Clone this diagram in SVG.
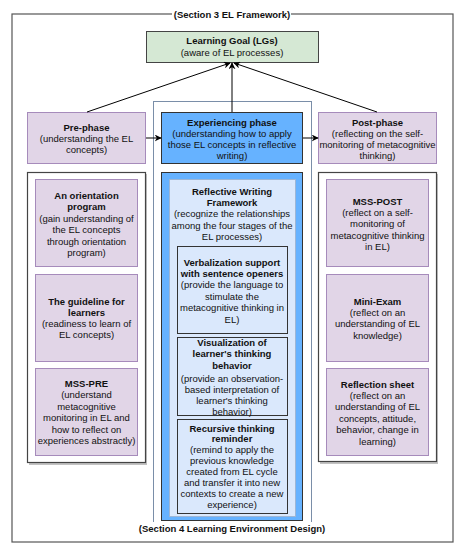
<svg xmlns="http://www.w3.org/2000/svg" width="463" height="550" viewBox="0 0 463 550">
<defs>
<marker id="ah" viewBox="0 0 10 10" refX="9" refY="5" markerWidth="7" markerHeight="7" orient="auto-start-reverse" markerUnits="userSpaceOnUse">
<path d="M0,0 L10,5 L0,10 L3,5 z" fill="#000"/>
</marker>
<style>
text{font-family:"Liberation Sans",Arial,sans-serif;font-size:9.5px;fill:#111;text-anchor:middle}
.b{font-weight:bold}
.purple{fill:#e1d5e7;stroke:#a68bbb;stroke-width:1}
.blue{fill:#66b2ff;stroke:#333;stroke-width:1}
.lblue{fill:#dae8fc;stroke:#333;stroke-width:1}
.cont{fill:#fff;stroke:#444;stroke-width:1.2}
.shadow{fill:#999;opacity:0.6}
.conn{stroke:#000;stroke-width:1;fill:none;marker-end:url(#ah)}
</style>
</defs>
<rect width="463" height="550" fill="#fff"/>

<g id="frame-section3">
<rect x="12" y="14" width="441" height="528" fill="none" stroke="#555" stroke-width="1.2"/>
<rect x="172" y="8" width="119" height="12" fill="#fff"/>
<text x="232" y="17.5" class="b">(Section 3 EL Framework)</text>
</g>

<g id="frame-section4">
<rect x="153.5" y="101.5" width="158" height="427" fill="#fff" stroke="#7a8ea8" stroke-width="1"/>
<rect x="130" y="522" width="205" height="12" fill="#fff"/>
<text x="232" y="531.5" class="b">(Section 4 Learning Environment Design)</text>
</g>

<g id="learning-goal">
<rect x="146.5" y="31.5" width="172" height="31" fill="#d5e8d4" stroke="#444"/>
<text x="232" y="43.5" class="b">Learning Goal (LGs)</text>
<text x="232" y="55.5">(aware of EL processes)</text>
</g>

<g id="pre-phase">
<rect x="27.5" y="112.5" width="118" height="51" class="purple"/>
<text x="86.5" y="130.5" class="b">Pre-phase</text>
<text x="86.5" y="141.5">(understanding the EL</text>
<text x="86.5" y="152.5">concepts)</text>
</g>

<g id="experiencing-phase">
<rect x="161.5" y="112.5" width="141" height="51" class="blue"/>
<text x="232" y="125.5" class="b">Experiencing phase</text>
<text x="232" y="136.5">(understanding how to apply</text>
<text x="232" y="147.5">those EL concepts in reflective</text>
<text x="232" y="158.5">writing)</text>
</g>

<g id="post-phase">
<rect x="318.5" y="112.5" width="118" height="51" class="purple"/>
<text x="377.5" y="125.5" class="b">Post-phase</text>
<text x="377.5" y="136.5">(reflecting on the self-</text>
<text x="377.5" y="147.5">monitoring of metacognitive</text>
<text x="377.5" y="158.5">thinking)</text>
</g>

<g id="pre-container">
<rect x="29" y="174" width="118" height="291" class="shadow"/>
<rect x="27.5" y="172.5" width="118" height="290" class="cont"/>
</g>
<g id="orientation-program">
<rect x="35.5" y="179.5" width="102" height="87" class="purple"/>
<text x="86.5" y="198.5" class="b">An orientation</text>
<text x="86.5" y="210" class="b">program</text>
<text x="86.5" y="221.5">(gain understanding of</text>
<text x="86.5" y="233">the EL concepts</text>
<text x="86.5" y="244.5">through orientation</text>
<text x="86.5" y="256">program)</text>
</g>
<g id="guideline">
<rect x="35.5" y="274.5" width="102" height="87" class="purple"/>
<text x="86.5" y="304.5" class="b">The guideline for</text>
<text x="86.5" y="315.5" class="b">learners</text>
<text x="86.5" y="326.5">(readiness to learn of</text>
<text x="86.5" y="337.5">EL concepts)</text>
</g>
<g id="mss-pre">
<rect x="35.5" y="368.5" width="102" height="87" class="purple"/>
<text x="86.5" y="386.5" class="b">MSS-PRE</text>
<text x="86.5" y="398">(understand</text>
<text x="86.5" y="409.5">metacognitive</text>
<text x="86.5" y="421">monitoring in EL and</text>
<text x="86.5" y="432.5">how to reflect on</text>
<text x="86.5" y="444">experiences abstractly)</text>
</g>

<g id="post-container">
<rect x="320" y="174" width="118" height="290" class="shadow"/>
<rect x="318.5" y="172.5" width="118" height="289" class="cont"/>
</g>
<g id="mss-post">
<rect x="326.5" y="179.5" width="102" height="87" class="purple"/>
<text x="377.5" y="204.5" class="b">MSS-POST</text>
<text x="377.5" y="215.5">(reflect on a self-</text>
<text x="377.5" y="227">monitoring of</text>
<text x="377.5" y="238.5">metacognitive thinking</text>
<text x="377.5" y="250">in EL)</text>
</g>
<g id="mini-exam">
<rect x="326.5" y="274.5" width="102" height="87" class="purple"/>
<text x="377.5" y="304.5" class="b">Mini-Exam</text>
<text x="377.5" y="315.5">(reflect on an</text>
<text x="377.5" y="327">understanding of EL</text>
<text x="377.5" y="338.5">knowledge)</text>
</g>
<g id="reflection-sheet">
<rect x="326.5" y="368.5" width="102" height="87" class="purple"/>
<text x="377.5" y="387.5" class="b">Reflection sheet</text>
<text x="377.5" y="398.5">(reflect on an</text>
<text x="377.5" y="410">understanding of EL</text>
<text x="377.5" y="421.5">concepts, attitude,</text>
<text x="377.5" y="433">behavior, change in</text>
<text x="377.5" y="444.5">learning)</text>
</g>

<g id="experiencing-container">
<rect x="161.5" y="172.5" width="141" height="348" class="blue"/>
</g>
<g id="reflective-writing-framework">
<rect x="169.5" y="179.5" width="126" height="337" fill="#dae8fc" stroke="#9db6d6"/>
<text x="232" y="194.5" class="b">Reflective Writing</text>
<text x="232" y="205.5" class="b">Framework</text>
<text x="232" y="217">(recognize the relationships</text>
<text x="232" y="228.5">among the four stages of the</text>
<text x="232" y="240">EL processes)</text>
</g>
<g id="verbalization-support">
<rect x="177.5" y="246.5" width="110" height="87" class="lblue"/>
<text x="232" y="265.5" class="b">Verbalization support</text>
<text x="232" y="276.5" class="b">with sentence openers</text>
<text x="232" y="288">(provide the language to</text>
<text x="232" y="299.5">stimulate the</text>
<text x="232" y="311">metacognitive thinking in</text>
<text x="232" y="322.5">EL)</text>
</g>
<g id="visualization">
<rect x="177.5" y="337.5" width="110" height="78" class="lblue"/>
<text x="232" y="345.5" class="b">Visualization of</text>
<text x="232" y="357" class="b">learner's thinking</text>
<text x="232" y="368.5" class="b">behavior</text>
<text x="232" y="381.5">(provide an observation-</text>
<text x="232" y="392.5">based interpretation of</text>
<text x="232" y="403.5">learner's thinking</text>
<text x="232" y="414.5">behavior)</text>
</g>
<g id="recursive-thinking">
<rect x="177.5" y="419.5" width="110" height="94" class="lblue"/>
<text x="232" y="431.5" class="b">Recursive thinking</text>
<text x="232" y="442" class="b">reminder</text>
<text x="232" y="453">(remind to apply the</text>
<text x="232" y="464">previous knowledge</text>
<text x="232" y="475">created from EL cycle</text>
<text x="232" y="486">and transfer it into new</text>
<text x="232" y="497">contexts to create a new</text>
<text x="232" y="508">experience)</text>
</g>

<g id="connectors">
<line x1="87" y1="112" x2="230" y2="63" class="conn"/>
<line x1="232" y1="112" x2="232" y2="63" class="conn"/>
<line x1="377" y1="112" x2="234" y2="63" class="conn"/>
<line x1="146" y1="138" x2="161" y2="138" class="conn"/>
<line x1="303" y1="138" x2="318" y2="138" class="conn"/>
</g>
</svg>
